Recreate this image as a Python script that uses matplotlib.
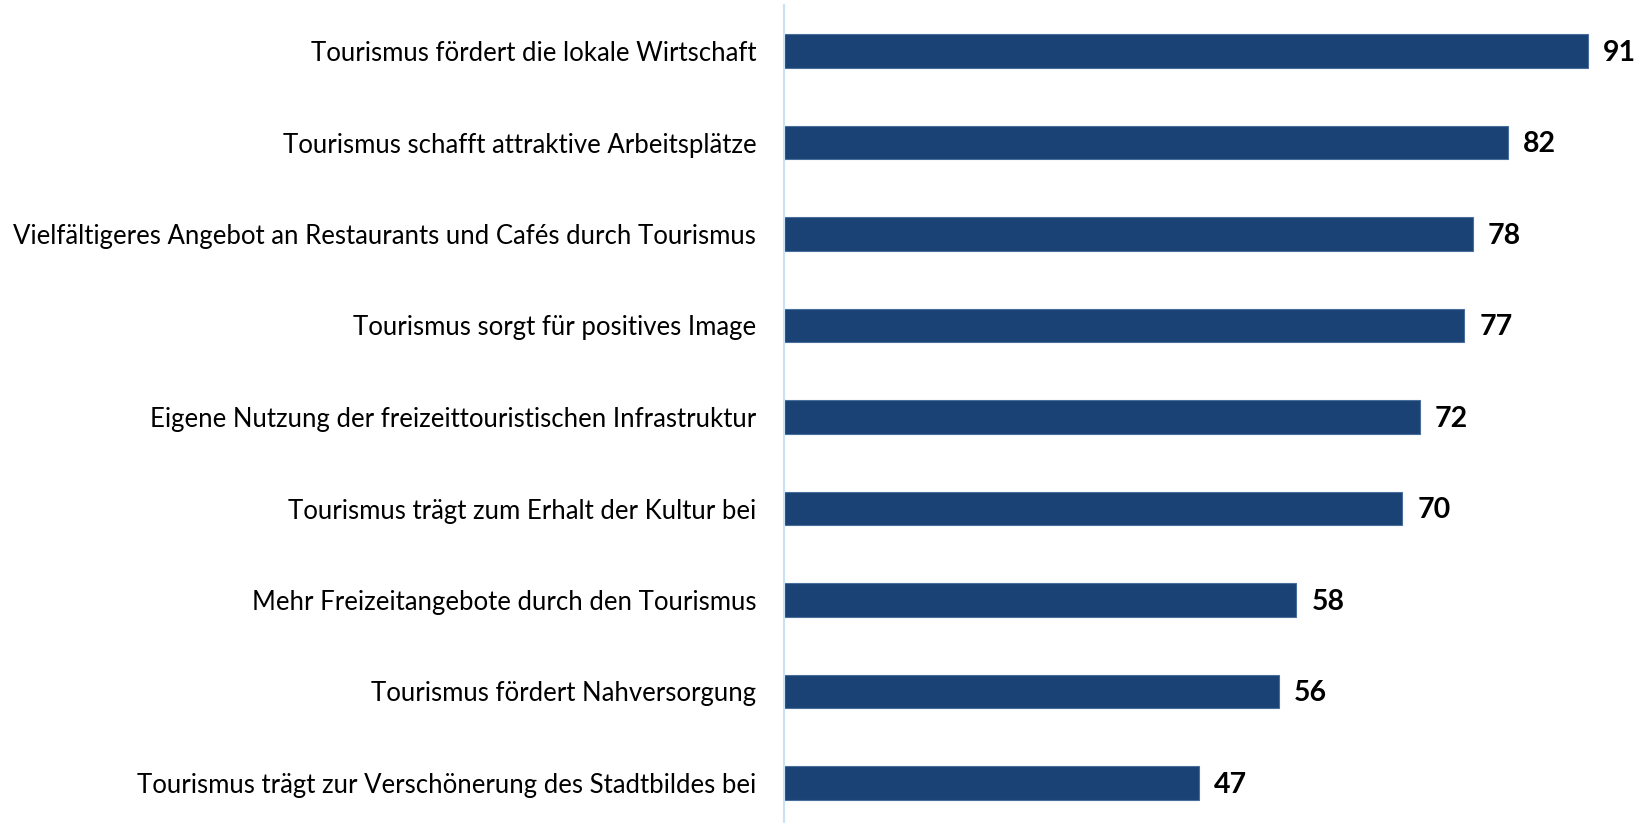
import matplotlib
matplotlib.use("Agg")
import matplotlib.pyplot as plt

categories = [
    "Tourismus fördert die lokale Wirtschaft",
    "Tourismus schafft attraktive Arbeitsplätze",
    "Vielfältigeres Angebot an Restaurants und Cafés durch Tourismus",
    "Tourismus sorgt für positives Image",
    "Eigene Nutzung der freizeittouristischen Infrastruktur",
    "Tourismus trägt zum Erhalt der Kultur bei",
    "Mehr Freizeitangebote durch den Tourismus",
    "Tourismus fördert Nahversorgung",
    "Tourismus trägt zur Verschönerung des Stadtbildes bei",
]
values = [91, 82, 78, 77, 72, 70, 58, 56, 47]

plt.rcParams['font.family'] = ['Lato', 'DejaVu Sans']

W, H = 1639, 823
fig = plt.figure(figsize=(W / 100, H / 100), dpi=100)
left = 784 / W
width = 848 / W
top_px = 5.25
height_px = 9 * 91.5
bottom = (H - top_px - height_px) / H
ax = fig.add_axes([left, bottom, width, height_px / H])

y = list(range(len(categories)))
ax.barh(y, values, height=0.366, color='#1B4275', edgecolor='#4A6E9C', linewidth=0.8, zorder=2)
ax.set_ylim(len(categories) - 0.5, -0.5)
ax.set_xlim(0, 96)

for yi, v in zip(y, values):
    ax.text(v + 1.7, yi + 0.02, str(v), va='center', ha='left', fontsize=20.5, fontweight='bold', color='black')

ax.set_yticks(y)
ax.set_yticklabels(categories, fontsize=18.5)
ax.tick_params(axis='y', length=0, pad=20)
ax.set_xticks([])
for s in ['top', 'right', 'bottom']:
    ax.spines[s].set_visible(False)
ax.spines['left'].set_color('#C9E2F6')
ax.spines['left'].set_linewidth(1.6)

fig.savefig('out.png', dpi=100)
